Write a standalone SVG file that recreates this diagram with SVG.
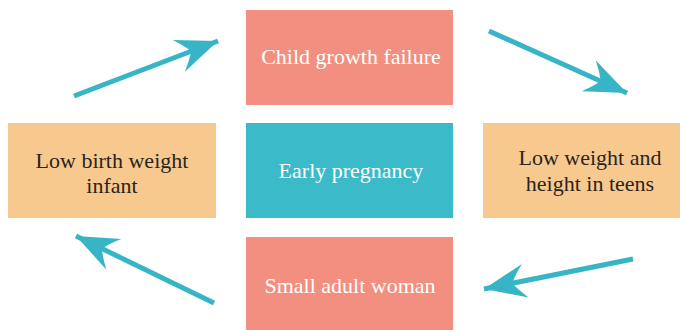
<svg xmlns="http://www.w3.org/2000/svg" width="680" height="330" viewBox="0 0 680 330">
<defs>
<style>
.salmon{fill:#f28f80}
.orange{fill:#f8c98f}
.teal{fill:#3bbac9}
.lbl{font-family:"Liberation Serif","Times New Roman",serif;font-size:22px;text-anchor:middle}
.light{fill:#ffffff}
.dark{fill:#2a2420}
.arrow{stroke:#37b5c6;stroke-width:5;fill:none;stroke-linecap:butt}
</style>
<marker id="ah" markerUnits="userSpaceOnUse" markerWidth="50" markerHeight="40" refX="0" refY="0" viewBox="-44 -20 50 40" orient="auto" overflow="visible">
<path d="M0,0 L-42,-17 Q-32,-6 -29,0 Q-32,6 -42,17 Z" fill="#37b5c6"/>
</marker>
</defs>
<rect width="680" height="330" fill="#ffffff"/>
<g id="child-growth-failure">
<rect class="salmon" x="246" y="10" width="207" height="95"/>
<text class="lbl light" x="351" y="64">Child growth failure</text>
</g>
<g id="low-birth-weight-infant">
<rect class="orange" x="8" y="123" width="208" height="95"/>
<text class="lbl dark" x="112" y="168">Low birth weight</text>
<text class="lbl dark" x="112" y="193">infant</text>
</g>
<g id="early-pregnancy">
<rect class="teal" x="246" y="123" width="207" height="95"/>
<text class="lbl light" x="351" y="178">Early pregnancy</text>
</g>
<g id="low-weight-teens">
<rect class="orange" x="483" y="123" width="197" height="95"/>
<text class="lbl dark" x="590" y="165">Low weight and</text>
<text class="lbl dark" x="590" y="191">height in teens</text>
</g>
<g id="small-adult-woman">
<rect class="salmon" x="246" y="237" width="207" height="93"/>
<text class="lbl light" x="350" y="293">Small adult woman</text>
</g>
<g id="connectors">
<line class="arrow" x1="74" y1="96" x2="218" y2="41" marker-end="url(#ah)"/>
<line class="arrow" x1="489" y1="31" x2="627" y2="93" marker-end="url(#ah)"/>
<line class="arrow" x1="633" y1="259" x2="484" y2="289" marker-end="url(#ah)"/>
<line class="arrow" x1="214" y1="303" x2="76" y2="236" marker-end="url(#ah)"/>
</g>
</svg>
